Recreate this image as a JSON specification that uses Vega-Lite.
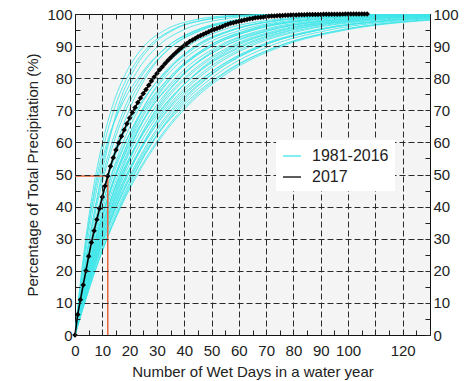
{
"$schema":"https://vega.github.io/schema/vega-lite/v6.json",
"width":355,"height":321,
"autosize":{"type":"none"},
"padding":{"left":75,"top":14,"right":44,"bottom":46},
"background":"white",
"config":{"view":{"fill":"#f3f4f3","stroke":"#111","strokeWidth":1},"font":"Liberation Sans",
"axis":{"labelFont":"Liberation Sans","labelFontSize":15,"labelColor":"#222","titleFont":"Liberation Sans","titleFontSize":15,"titleFontWeight":"normal","titleColor":"#222","domain":false,"tickColor":"#222","tickWidth":1,"labelFlush":false,"labelOverlap":false}},
"datasets":{
"hist":[
{"s":1981,"d":0,"p":0},{"s":1981,"d":1.65,"p":13.9},{"s":1981,"d":3.85,"p":29.5},{"s":1981,"d":6.6,"p":45.1},{"s":1981,"d":9.9,"p":59.3},{"s":1981,"d":13.75,"p":71.4},{"s":1981,"d":18.7,"p":81.7},{"s":1981,"d":25.3,"p":90},{"s":1981,"d":33,"p":95},{"s":1981,"d":44,"p":98.2},{"s":1981,"d":57.2,"p":99.5},{"s":1981,"d":77,"p":99.9},{"s":1981,"d":132,"p":100},
{"s":1982,"d":0,"p":0},{"s":1982,"d":1.77,"p":13.9},{"s":1982,"d":4.13,"p":29.5},{"s":1982,"d":7.08,"p":45.1},{"s":1982,"d":10.62,"p":59.3},{"s":1982,"d":14.75,"p":71.4},{"s":1982,"d":20.06,"p":81.7},{"s":1982,"d":27.14,"p":90},{"s":1982,"d":35.4,"p":95},{"s":1982,"d":47.2,"p":98.2},{"s":1982,"d":61.36,"p":99.5},{"s":1982,"d":82.6,"p":99.9},{"s":1982,"d":141.6,"p":100},
{"s":1983,"d":0,"p":0},{"s":1983,"d":2.3,"p":13.9},{"s":1983,"d":5.2,"p":29.5},{"s":1983,"d":8.6,"p":45.1},{"s":1983,"d":12.2,"p":59.3},{"s":1983,"d":15.9,"p":71.4},{"s":1983,"d":21,"p":81.7},{"s":1983,"d":28,"p":90},{"s":1983,"d":36,"p":95},{"s":1983,"d":48,"p":98.2},{"s":1983,"d":63,"p":99.5},{"s":1983,"d":85,"p":99.9},{"s":1983,"d":150,"p":100},
{"s":1984,"d":0,"p":0},{"s":1984,"d":1.98,"p":13.9},{"s":1984,"d":4.62,"p":29.5},{"s":1984,"d":7.92,"p":45.1},{"s":1984,"d":11.88,"p":59.3},{"s":1984,"d":16.5,"p":71.4},{"s":1984,"d":22.44,"p":81.7},{"s":1984,"d":30.36,"p":90},{"s":1984,"d":39.6,"p":95},{"s":1984,"d":52.8,"p":98.2},{"s":1984,"d":68.64,"p":99.5},{"s":1984,"d":92.4,"p":99.9},{"s":1984,"d":158.4,"p":100},
{"s":1985,"d":0,"p":0},{"s":1985,"d":1.8,"p":13.9},{"s":1985,"d":4.2,"p":29.5},{"s":1985,"d":7.4,"p":45.1},{"s":1985,"d":11.5,"p":59.3},{"s":1985,"d":17,"p":71.4},{"s":1985,"d":24.5,"p":81.7},{"s":1985,"d":34,"p":90},{"s":1985,"d":45,"p":95},{"s":1985,"d":60,"p":98.2},{"s":1985,"d":78,"p":99.5},{"s":1985,"d":104,"p":99.9},{"s":1985,"d":168,"p":100},
{"s":1986,"d":0,"p":0},{"s":1986,"d":2.22,"p":13.9},{"s":1986,"d":5.18,"p":29.5},{"s":1986,"d":8.88,"p":45.1},{"s":1986,"d":13.32,"p":59.3},{"s":1986,"d":18.5,"p":71.4},{"s":1986,"d":25.16,"p":81.7},{"s":1986,"d":34.04,"p":90},{"s":1986,"d":44.4,"p":95},{"s":1986,"d":59.2,"p":98.2},{"s":1986,"d":76.96,"p":99.5},{"s":1986,"d":103.6,"p":99.9},{"s":1986,"d":177.6,"p":100},
{"s":1987,"d":0,"p":0},{"s":1987,"d":2.33,"p":13.9},{"s":1987,"d":5.43,"p":29.5},{"s":1987,"d":9.3,"p":45.1},{"s":1987,"d":13.95,"p":59.3},{"s":1987,"d":19.38,"p":71.4},{"s":1987,"d":26.35,"p":81.7},{"s":1987,"d":35.65,"p":90},{"s":1987,"d":46.5,"p":95},{"s":1987,"d":62,"p":98.2},{"s":1987,"d":80.6,"p":99.5},{"s":1987,"d":108.5,"p":99.9},{"s":1987,"d":186,"p":100},
{"s":1988,"d":0,"p":0},{"s":1988,"d":2.8,"p":13.9},{"s":1988,"d":6.4,"p":29.5},{"s":1988,"d":10.5,"p":45.1},{"s":1988,"d":15.2,"p":59.3},{"s":1988,"d":20.5,"p":71.4},{"s":1988,"d":27,"p":81.7},{"s":1988,"d":35.5,"p":90},{"s":1988,"d":46,"p":95},{"s":1988,"d":62,"p":98.2},{"s":1988,"d":82,"p":99.5},{"s":1988,"d":110,"p":99.9},{"s":1988,"d":195,"p":100},
{"s":1989,"d":0,"p":0},{"s":1989,"d":2.7,"p":13.9},{"s":1989,"d":6.3,"p":29.5},{"s":1989,"d":10.8,"p":45.1},{"s":1989,"d":16.2,"p":59.3},{"s":1989,"d":22.5,"p":71.4},{"s":1989,"d":30.6,"p":81.7},{"s":1989,"d":41.4,"p":90},{"s":1989,"d":54,"p":95},{"s":1989,"d":72,"p":98.2},{"s":1989,"d":93.6,"p":99.5},{"s":1989,"d":126,"p":99.9},{"s":1989,"d":216,"p":100},
{"s":1990,"d":0,"p":0},{"s":1990,"d":2.4,"p":13.9},{"s":1990,"d":5.8,"p":29.5},{"s":1990,"d":10.3,"p":45.1},{"s":1990,"d":16,"p":59.3},{"s":1990,"d":23.5,"p":71.4},{"s":1990,"d":33,"p":81.7},{"s":1990,"d":45,"p":90},{"s":1990,"d":58,"p":95},{"s":1990,"d":76,"p":98.2},{"s":1990,"d":98,"p":99.5},{"s":1990,"d":131,"p":99.9},
{"s":1991,"d":0,"p":0},{"s":1991,"d":2.88,"p":13.9},{"s":1991,"d":6.72,"p":29.5},{"s":1991,"d":11.52,"p":45.1},{"s":1991,"d":17.28,"p":59.3},{"s":1991,"d":24,"p":71.4},{"s":1991,"d":32.64,"p":81.7},{"s":1991,"d":44.16,"p":90},{"s":1991,"d":57.6,"p":95},{"s":1991,"d":76.8,"p":98.2},{"s":1991,"d":99.84,"p":99.5},{"s":1991,"d":134.4,"p":99.9},
{"s":1992,"d":0,"p":0},{"s":1992,"d":3.4,"p":13.9},{"s":1992,"d":7.8,"p":29.5},{"s":1992,"d":13,"p":45.1},{"s":1992,"d":19,"p":59.3},{"s":1992,"d":25.5,"p":71.4},{"s":1992,"d":33.5,"p":81.7},{"s":1992,"d":44,"p":90},{"s":1992,"d":57,"p":95},{"s":1992,"d":76,"p":98.2},{"s":1992,"d":100,"p":99.5},{"s":1992,"d":139,"p":99.9},
{"s":1993,"d":0,"p":0},{"s":1993,"d":3.05,"p":13.9},{"s":1993,"d":7.11,"p":29.5},{"s":1993,"d":12.18,"p":45.1},{"s":1993,"d":18.27,"p":59.3},{"s":1993,"d":25.38,"p":71.4},{"s":1993,"d":34.51,"p":81.7},{"s":1993,"d":46.69,"p":90},{"s":1993,"d":60.9,"p":95},{"s":1993,"d":81.2,"p":98.2},{"s":1993,"d":105.56,"p":99.5},{"s":1993,"d":142.1,"p":99.9},
{"s":1994,"d":0,"p":0},{"s":1994,"d":2.8,"p":13.9},{"s":1994,"d":6.6,"p":29.5},{"s":1994,"d":11.6,"p":45.1},{"s":1994,"d":18,"p":59.3},{"s":1994,"d":26,"p":71.4},{"s":1994,"d":36.5,"p":81.7},{"s":1994,"d":50,"p":90},{"s":1994,"d":65,"p":95},{"s":1994,"d":86,"p":98.2},{"s":1994,"d":110,"p":99.5},{"s":1994,"d":146,"p":99.9},
{"s":1995,"d":0,"p":0},{"s":1995,"d":3.2,"p":13.9},{"s":1995,"d":7.46,"p":29.5},{"s":1995,"d":12.78,"p":45.1},{"s":1995,"d":19.17,"p":59.3},{"s":1995,"d":26.63,"p":71.4},{"s":1995,"d":36.21,"p":81.7},{"s":1995,"d":48.99,"p":90},{"s":1995,"d":63.9,"p":95},{"s":1995,"d":85.2,"p":98.2},{"s":1995,"d":110.76,"p":99.5},{"s":1995,"d":149.1,"p":99.9},
{"s":1996,"d":0,"p":0},{"s":1996,"d":3.27,"p":13.9},{"s":1996,"d":7.63,"p":29.5},{"s":1996,"d":13.08,"p":45.1},{"s":1996,"d":19.62,"p":59.3},{"s":1996,"d":27.25,"p":71.4},{"s":1996,"d":37.06,"p":81.7},{"s":1996,"d":50.14,"p":90},{"s":1996,"d":65.4,"p":95},{"s":1996,"d":87.2,"p":98.2},{"s":1996,"d":113.36,"p":99.5},{"s":1996,"d":152.6,"p":99.9},
{"s":1997,"d":0,"p":0},{"s":1997,"d":3.8,"p":13.9},{"s":1997,"d":8.6,"p":29.5},{"s":1997,"d":14.3,"p":45.1},{"s":1997,"d":20.8,"p":59.3},{"s":1997,"d":28,"p":71.4},{"s":1997,"d":37,"p":81.7},{"s":1997,"d":49,"p":90},{"s":1997,"d":63,"p":95},{"s":1997,"d":85,"p":98.2},{"s":1997,"d":112,"p":99.5},{"s":1997,"d":156,"p":99.9},
{"s":1998,"d":0,"p":0},{"s":1998,"d":3.42,"p":13.9},{"s":1998,"d":7.98,"p":29.5},{"s":1998,"d":13.68,"p":45.1},{"s":1998,"d":20.52,"p":59.3},{"s":1998,"d":28.5,"p":71.4},{"s":1998,"d":38.76,"p":81.7},{"s":1998,"d":52.44,"p":90},{"s":1998,"d":68.4,"p":95},{"s":1998,"d":91.2,"p":98.2},{"s":1998,"d":118.56,"p":99.5},{"s":1998,"d":159.6,"p":99.9},
{"s":1999,"d":0,"p":0},{"s":1999,"d":3.1,"p":13.9},{"s":1999,"d":7.4,"p":29.5},{"s":1999,"d":13,"p":45.1},{"s":1999,"d":20,"p":59.3},{"s":1999,"d":28.5,"p":71.4},{"s":1999,"d":40,"p":81.7},{"s":1999,"d":55,"p":90},{"s":1999,"d":72,"p":95},{"s":1999,"d":96,"p":98.2},{"s":1999,"d":124,"p":99.5},{"s":1999,"d":163,"p":99.9},
{"s":2000,"d":0,"p":0},{"s":2000,"d":3.57,"p":13.9},{"s":2000,"d":8.33,"p":29.5},{"s":2000,"d":14.28,"p":45.1},{"s":2000,"d":21.42,"p":59.3},{"s":2000,"d":29.75,"p":71.4},{"s":2000,"d":40.46,"p":81.7},{"s":2000,"d":54.74,"p":90},{"s":2000,"d":71.4,"p":95},{"s":2000,"d":95.2,"p":98.2},{"s":2000,"d":123.76,"p":99.5},{"s":2000,"d":166.6,"p":99.9},
{"s":2001,"d":0,"p":0},{"s":2001,"d":4.1,"p":13.9},{"s":2001,"d":9.3,"p":29.5},{"s":2001,"d":15.5,"p":45.1},{"s":2001,"d":22.5,"p":59.3},{"s":2001,"d":30.5,"p":71.4},{"s":2001,"d":40.5,"p":81.7},{"s":2001,"d":53.5,"p":90},{"s":2001,"d":70,"p":95},{"s":2001,"d":95,"p":98.2},{"s":2001,"d":125,"p":99.5},{"s":2001,"d":170,"p":99.9},
{"s":2002,"d":0,"p":0},{"s":2002,"d":3.72,"p":13.9},{"s":2002,"d":8.68,"p":29.5},{"s":2002,"d":14.88,"p":45.1},{"s":2002,"d":22.32,"p":59.3},{"s":2002,"d":31,"p":71.4},{"s":2002,"d":42.16,"p":81.7},{"s":2002,"d":57.04,"p":90},{"s":2002,"d":74.4,"p":95},{"s":2002,"d":99.2,"p":98.2},{"s":2002,"d":128.96,"p":99.5},{"s":2002,"d":173.6,"p":99.9},
{"s":2003,"d":0,"p":0},{"s":2003,"d":3.8,"p":13.9},{"s":2003,"d":8.86,"p":29.5},{"s":2003,"d":15.18,"p":45.1},{"s":2003,"d":22.77,"p":59.3},{"s":2003,"d":31.63,"p":71.4},{"s":2003,"d":43.01,"p":81.7},{"s":2003,"d":58.19,"p":90},{"s":2003,"d":75.9,"p":95},{"s":2003,"d":101.2,"p":98.2},{"s":2003,"d":131.56,"p":99.5},
{"s":2004,"d":0,"p":0},{"s":2004,"d":3.4,"p":13.9},{"s":2004,"d":8.2,"p":29.5},{"s":2004,"d":14.5,"p":45.1},{"s":2004,"d":22.5,"p":59.3},{"s":2004,"d":32.5,"p":71.4},{"s":2004,"d":45,"p":81.7},{"s":2004,"d":61.5,"p":90},{"s":2004,"d":80,"p":95},{"s":2004,"d":106,"p":98.2},{"s":2004,"d":136,"p":99.5},
{"s":2005,"d":0,"p":0},{"s":2005,"d":3.95,"p":13.9},{"s":2005,"d":9.21,"p":29.5},{"s":2005,"d":15.78,"p":45.1},{"s":2005,"d":23.67,"p":59.3},{"s":2005,"d":32.88,"p":71.4},{"s":2005,"d":44.71,"p":81.7},{"s":2005,"d":60.49,"p":90},{"s":2005,"d":78.9,"p":95},{"s":2005,"d":105.2,"p":98.2},{"s":2005,"d":136.76,"p":99.5},
{"s":2006,"d":0,"p":0},{"s":2006,"d":4.5,"p":13.9},{"s":2006,"d":10.2,"p":29.5},{"s":2006,"d":17,"p":45.1},{"s":2006,"d":24.8,"p":59.3},{"s":2006,"d":33.5,"p":71.4},{"s":2006,"d":44.5,"p":81.7},{"s":2006,"d":59,"p":90},{"s":2006,"d":77,"p":95},{"s":2006,"d":104,"p":98.2},{"s":2006,"d":139,"p":99.5},
{"s":2007,"d":0,"p":0},{"s":2007,"d":4.11,"p":13.9},{"s":2007,"d":9.59,"p":29.5},{"s":2007,"d":16.44,"p":45.1},{"s":2007,"d":24.66,"p":59.3},{"s":2007,"d":34.25,"p":71.4},{"s":2007,"d":46.58,"p":81.7},{"s":2007,"d":63.02,"p":90},{"s":2007,"d":82.2,"p":95},{"s":2007,"d":109.6,"p":98.2},{"s":2007,"d":142.48,"p":99.5},
{"s":2008,"d":0,"p":0},{"s":2008,"d":4.2,"p":13.9},{"s":2008,"d":9.8,"p":29.5},{"s":2008,"d":16.8,"p":45.1},{"s":2008,"d":25.2,"p":59.3},{"s":2008,"d":35,"p":71.4},{"s":2008,"d":47.6,"p":81.7},{"s":2008,"d":64.4,"p":90},{"s":2008,"d":84,"p":95},{"s":2008,"d":112,"p":98.2},{"s":2008,"d":145.6,"p":99.5},
{"s":2009,"d":0,"p":0},{"s":2009,"d":3.9,"p":13.9},{"s":2009,"d":9.2,"p":29.5},{"s":2009,"d":16.2,"p":45.1},{"s":2009,"d":25,"p":59.3},{"s":2009,"d":35.5,"p":71.4},{"s":2009,"d":49.5,"p":81.7},{"s":2009,"d":68,"p":90},{"s":2009,"d":89,"p":95},{"s":2009,"d":117,"p":98.2},{"s":2009,"d":149,"p":99.5},
{"s":2010,"d":0,"p":0},{"s":2010,"d":4.38,"p":13.9},{"s":2010,"d":10.22,"p":29.5},{"s":2010,"d":17.52,"p":45.1},{"s":2010,"d":26.28,"p":59.3},{"s":2010,"d":36.5,"p":71.4},{"s":2010,"d":49.64,"p":81.7},{"s":2010,"d":67.16,"p":90},{"s":2010,"d":87.6,"p":95},{"s":2010,"d":116.8,"p":98.2},{"s":2010,"d":151.84,"p":99.5},
{"s":2011,"d":0,"p":0},{"s":2011,"d":4.47,"p":13.9},{"s":2011,"d":10.43,"p":29.5},{"s":2011,"d":17.88,"p":45.1},{"s":2011,"d":26.82,"p":59.3},{"s":2011,"d":37.25,"p":71.4},{"s":2011,"d":50.66,"p":81.7},{"s":2011,"d":68.54,"p":90},{"s":2011,"d":89.4,"p":95},{"s":2011,"d":119.2,"p":98.2},{"s":2011,"d":154.96,"p":99.5},
{"s":2012,"d":0,"p":0},{"s":2012,"d":5,"p":13.9},{"s":2012,"d":11.4,"p":29.5},{"s":2012,"d":19,"p":45.1},{"s":2012,"d":27.8,"p":59.3},{"s":2012,"d":38,"p":71.4},{"s":2012,"d":51,"p":81.7},{"s":2012,"d":68.5,"p":90},{"s":2012,"d":89,"p":95},{"s":2012,"d":119,"p":98.2},{"s":2012,"d":158,"p":99.5},
{"s":2013,"d":0,"p":0},{"s":2013,"d":4.65,"p":13.9},{"s":2013,"d":10.85,"p":29.5},{"s":2013,"d":18.6,"p":45.1},{"s":2013,"d":27.9,"p":59.3},{"s":2013,"d":38.75,"p":71.4},{"s":2013,"d":52.7,"p":81.7},{"s":2013,"d":71.3,"p":90},{"s":2013,"d":93,"p":95},{"s":2013,"d":124,"p":98.2},{"s":2013,"d":161.2,"p":99.5},
{"s":2014,"d":0,"p":0},{"s":2014,"d":4.3,"p":13.9},{"s":2014,"d":10.2,"p":29.5},{"s":2014,"d":18,"p":45.1},{"s":2014,"d":27.5,"p":59.3},{"s":2014,"d":39.5,"p":71.4},{"s":2014,"d":54.5,"p":81.7},{"s":2014,"d":74.5,"p":90},{"s":2014,"d":97.5,"p":95},{"s":2014,"d":128,"p":98.2},{"s":2014,"d":165,"p":99.5},
{"s":2015,"d":0,"p":0},{"s":2015,"d":4.86,"p":13.9},{"s":2015,"d":11.34,"p":29.5},{"s":2015,"d":19.44,"p":45.1},{"s":2015,"d":29.16,"p":59.3},{"s":2015,"d":40.5,"p":71.4},{"s":2015,"d":55.08,"p":81.7},{"s":2015,"d":74.52,"p":90},{"s":2015,"d":97.2,"p":95},{"s":2015,"d":129.6,"p":98.2},{"s":2015,"d":168.48,"p":99.5},
{"s":2016,"d":0,"p":0},{"s":2016,"d":4.95,"p":13.9},{"s":2016,"d":11.55,"p":29.5},{"s":2016,"d":19.8,"p":45.1},{"s":2016,"d":29.7,"p":59.3},{"s":2016,"d":41.25,"p":71.4},{"s":2016,"d":56.1,"p":81.7},{"s":2016,"d":75.9,"p":90},{"s":2016,"d":99,"p":95},{"s":2016,"d":132,"p":98.2}
],
"ref":[{"d":0,"p":49.5,"o":1},{"d":12,"p":49.5,"o":2},{"d":12,"p":0,"o":3}],
"y2017":[
{"d":0,"p":0},{"d":1,"p":6.4},{"d":2,"p":11},{"d":3,"p":15.6},{"d":4,"p":20},{"d":5,"p":24.5},{"d":6,"p":28.8},{"d":7,"p":32.5},{"d":8,"p":36},{"d":9,"p":39.4},{"d":10,"p":43},{"d":11,"p":46.4},{"d":12,"p":49.5},{"d":13,"p":52.6},{"d":14,"p":55.2},{"d":15,"p":57.6},{"d":16,"p":59.8},{"d":17,"p":61.9},{"d":18,"p":63.9},{"d":19,"p":65.8},{"d":20,"p":67.6},{"d":21,"p":69.3},{"d":22,"p":70.9},{"d":23,"p":72.4},{"d":24,"p":73.8},{"d":25,"p":75.2},{"d":26,"p":76.5},{"d":27,"p":77.8},{"d":28,"p":79.1},{"d":29,"p":80.4},{"d":30,"p":81.5},{"d":31,"p":82.6},{"d":32,"p":83.6},{"d":33,"p":84.6},{"d":34,"p":85.5},{"d":35,"p":86.4},{"d":36,"p":87.2},{"d":37,"p":88},{"d":38,"p":88.8},{"d":39,"p":89.5},{"d":40,"p":90.2},{"d":41,"p":90.8},{"d":42,"p":91.4},{"d":43,"p":91.9},{"d":44,"p":92.4},{"d":45,"p":92.9},{"d":46,"p":93.3},{"d":47,"p":93.7},{"d":48,"p":94.1},{"d":49,"p":94.5},{"d":50,"p":94.9},{"d":51,"p":95.2},{"d":52,"p":95.5},{"d":53,"p":95.8},{"d":54,"p":96.1},{"d":55,"p":96.5},{"d":56,"p":96.8},{"d":57,"p":97.1},{"d":58,"p":97.3},{"d":59,"p":97.5},{"d":60,"p":97.7},{"d":61,"p":97.9},{"d":62,"p":98.1},{"d":63,"p":98.3},{"d":64,"p":98.5},{"d":65,"p":98.6},{"d":66,"p":98.8},{"d":67,"p":98.9},{"d":68,"p":99},{"d":69,"p":99.1},{"d":70,"p":99.2},{"d":71,"p":99.3},{"d":72,"p":99.35},{"d":73,"p":99.4},{"d":74,"p":99.45},{"d":75,"p":99.5},{"d":76,"p":99.55},{"d":77,"p":99.6},{"d":78,"p":99.63},{"d":79,"p":99.66},{"d":80,"p":99.69},{"d":81,"p":99.72},{"d":82,"p":99.75},{"d":83,"p":99.77},{"d":84,"p":99.79},{"d":85,"p":99.81},{"d":86,"p":99.83},{"d":87,"p":99.85},{"d":88,"p":99.86},{"d":89,"p":99.87},{"d":90,"p":99.88},{"d":91,"p":99.89},{"d":92,"p":99.9},{"d":93,"p":99.91},{"d":94,"p":99.92},{"d":95,"p":99.93},{"d":96,"p":99.94},{"d":97,"p":99.95},{"d":98,"p":99.96},{"d":99,"p":99.97},{"d":100,"p":99.98},{"d":101,"p":99.98},{"d":102,"p":99.99},{"d":103,"p":99.99},{"d":104,"p":100},{"d":105,"p":100},{"d":106,"p":100},{"d":107,"p":100}
]},
"layer":[
{"data":{"name":"hist"},
 "mark":{"type":"line","interpolate":"monotone","strokeWidth":1,"clip":true,"opacity":0.85},
 "encoding":{
  "x":{"field":"d","type":"quantitative","scale":{"domain":[0,130],"nice":false},
   "axis":{"orient":"bottom","values":[0,5,10,15,20,25,30,35,40,45,50,55,60,65,70,75,80,85,90,95,100,105,110,115,120,125,130],
    "labelExpr":"(datum.value % 10 == 0 && datum.value != 110 && datum.value != 130) ? datum.label : ''",
    "grid":true,"gridDash":[6,3],"gridColor":"#2a2a2a","gridWidth":1,
    "gridOpacity":{"condition":{"test":"datum.value % 10 != 0 || datum.value == 0 || datum.value == 130","value":0},"value":1},
    "tickSize":-5,"labelPadding":13,"title":"Number of Wet Days in a water year","titlePadding":6,"zindex":1}},
  "y":{"field":"p","type":"quantitative","scale":{"domain":[0,100],"nice":false},
   "axis":{"orient":"left","values":[0,5,10,15,20,25,30,35,40,45,50,55,60,65,70,75,80,85,90,95,100],
    "labelExpr":"datum.value % 10 == 0 ? datum.label : ''",
    "grid":true,"gridDash":[6,3],"gridColor":"#2a2a2a","gridWidth":1,
    "gridOpacity":{"condition":{"test":"datum.value % 10 != 0 || datum.value == 0 || datum.value == 100","value":0},"value":1},
    "tickSize":-5,"labelPadding":8,"title":"Percentage of Total Precipitation (%)","titlePadding":6,"zindex":1}},
  "detail":{"field":"s","type":"nominal"},
  "color":{"datum":"1981-2016","type":"nominal","scale":{"domain":["1981-2016","2017"],"range":["#3fe6ea","#000000"]},
   "legend":{"orient":"none","legendX":201,"legendY":126,"title":null,"fillColor":"white","padding":6,"zindex":3,"labelFont":"Liberation Sans","labelFontSize":16,"labelColor":"#222","symbolSize":324,"rowPadding":3,"labelOffset":10,
    "encode":{"symbols":{"update":{
      "shape":{"signal":"datum.index == 1 ? 'M-1.5,0H1.5M-1.5,-0.36L-1.18,0L-1.5,0.36L-1.82,0ZM1.5,-0.36L1.82,0L1.5,0.36L1.18,0Z' : 'M-1.5,0H1.5'"},
      "fill":{"signal":"datum.index == 1 ? '#000' : 'transparent'"},
      "strokeWidth":{"signal":"datum.index == 1 ? 1.5 : 1.2"}}}}}}
 }},
{"data":{"name":"ref"},
 "mark":{"type":"line","color":"#e8643c","strokeWidth":1.5},
 "encoding":{
  "x":{"field":"d","type":"quantitative","axis":{"orient":"top","values":[0,5,10,15,20,25,30,35,40,45,50,55,60,65,70,75,80,85,90,95,100,105,110,115,120,125,130],"labels":false,"grid":false,"tickSize":-5,"title":null}},
  "y":{"field":"p","type":"quantitative","axis":{"orient":"right","values":[0,5,10,15,20,25,30,35,40,45,50,55,60,65,70,75,80,85,90,95,100],"labelExpr":"datum.value % 10 == 0 ? datum.label : ''","grid":false,"tickSize":-5,"labelPadding":8,"title":null}},
  "order":{"field":"o","type":"quantitative"}
 }},
{"data":{"name":"y2017"},
 "mark":{"type":"line","strokeWidth":1.6,"point":{"shape":"diamond","filled":true,"size":30,"color":"#000"}},
 "encoding":{
  "x":{"field":"d","type":"quantitative","axis":null},
  "y":{"field":"p","type":"quantitative","axis":null},
  "color":{"datum":"2017","type":"nominal"}
 }}
],
"resolve":{"axis":{"x":"independent","y":"independent"}}
}
